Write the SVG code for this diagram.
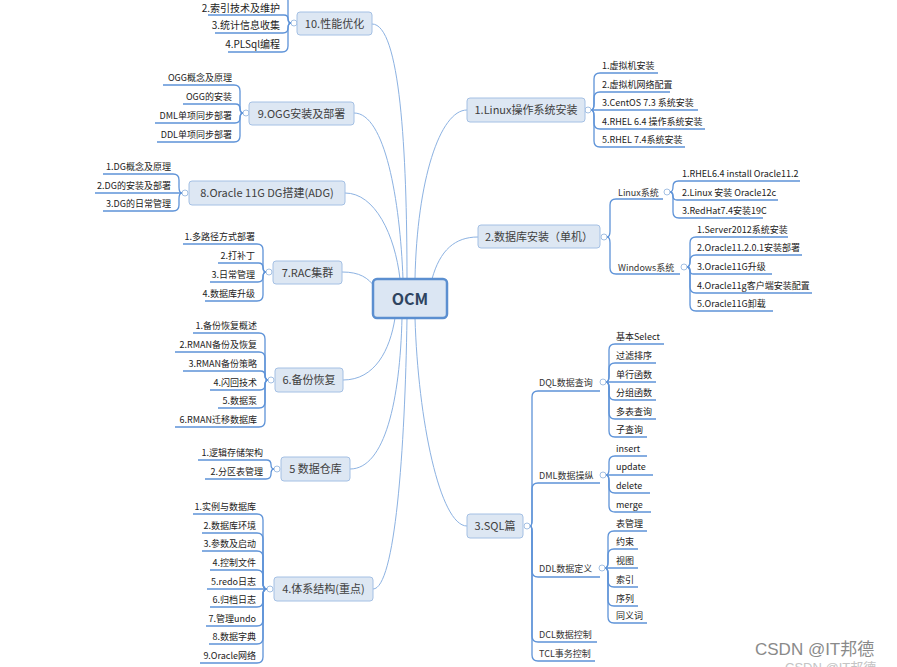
<svg xmlns="http://www.w3.org/2000/svg" width="897" height="667" viewBox="0 0 897 667">
<style>
text{font-family:"Noto Sans CJK SC","Noto Sans",sans-serif}
.box{fill:#dde7f3;stroke:#a4c0e4;stroke-width:1}
.mt{font-size:11px;fill:#404040;text-anchor:middle}
.ct{font-size:9px;fill:#222}
.ct2{font-size:10px;fill:#222}
.st{font-size:9px;fill:#333}
.e{text-anchor:end}
.ul{fill:none;stroke:#5e93d8;stroke-width:1.3}
.cn{fill:none;stroke:#8cb2e2;stroke-width:1}
.dot{fill:#fff;stroke:#8db0dc;stroke-width:0.8}
</style>
<rect width="897" height="667" fill="#fff"/>
<g id="connectors">
<path class="cn" d="M372 24 C400 24 407 150 407 279"/>
<path class="cn" d="M354 113 C385 113 400 200 403 279"/>
<path class="cn" d="M345 193 C375 193 395 235 400 279"/>
<path class="cn" d="M342 272 C360 272 368 278 375 287"/>
<path class="cn" d="M343 380 C375 380 390 350 395 318"/>
<path class="cn" d="M350 469 C385 469 400 400 402 318"/>
<path class="cn" d="M373 589 C395 589 405 450 407 318"/>
<path class="cn" d="M467 110 C440 110 417 180 415 279"/>
<path class="cn" d="M478 237 C455 237 440 250 432 279"/>
<path class="cn" d="M467 526 C440 526 418 420 415 318"/>
<path class="ul" d="M291 23 Q288 23 288 17 V1 Q288 -5 282 -5 H200"/>
<path class="ul" d="M291 23 Q288 23 288 19 Q288 15 284 15 H208"/>
<path class="ul" d="M291 23 Q288 23 288 28 Q288 33 283 33 H215"/>
<path class="ul" d="M291 23 Q288 23 288 29 V46 Q288 52 282 52 H228"/>
<path class="ul" d="M243 113 Q240 113 240 107 V91 Q240 85 234 85 H163"/>
<path class="ul" d="M243 113 Q240 113 240 108.5 Q240 104 235.5 104 H183"/>
<path class="ul" d="M243 113 Q240 113 240 118 Q240 123 235 123 H155"/>
<path class="ul" d="M243 113 Q240 113 240 119 V136 Q240 142 234 142 H157"/>
<path class="ul" d="M182 193 Q179 193 179 187 V180 Q179 174 173 174 H103"/>
<path class="ul" d="M182 193 H95"/>
<path class="ul" d="M182 193 Q179 193 179 199 V205 Q179 211 173 211 H103"/>
<path class="ul" d="M266 272 Q263 272 263 266 V250 Q263 244 257 244 H183"/>
<path class="ul" d="M266 272 Q263 272 263 267.5 Q263 263 258.5 263 H218"/>
<path class="ul" d="M266 272 Q263 272 263 277 Q263 282 258 282 H210"/>
<path class="ul" d="M266 272 Q263 272 263 278 V295 Q263 301 257 301 H205"/>
<path class="ul" d="M268 380 Q265 380 265 374 V339 Q265 333 259 333 H193"/>
<path class="ul" d="M268 380 Q265 380 265 374 V358 Q265 352 259 352 H175"/>
<path class="ul" d="M268 380 Q265 380 265 375.5 Q265 371 260.5 371 H183"/>
<path class="ul" d="M268 380 Q265 380 265 385 Q265 390 260 390 H210"/>
<path class="ul" d="M268 380 Q265 380 265 386 V402 Q265 408 259 408 H218"/>
<path class="ul" d="M268 380 Q265 380 265 386 V421 Q265 427 259 427 H175"/>
<path class="ul" d="M274 469 Q271 469 271 464.5 Q271 460 266.5 460 H198"/>
<path class="ul" d="M274 469 Q271 469 271 474 Q271 479 266 479 H205"/>
<path class="ul" d="M267 589 Q263 589 263 583 V520 Q263 514 257 514 H193"/>
<path class="ul" d="M267 589 Q263 589 263 583 V539 Q263 533 257 533 H202"/>
<path class="ul" d="M267 589 Q263 589 263 583 V557 Q263 551 257 551 H202"/>
<path class="ul" d="M267 589 Q263 589 263 583 V576 Q263 570 257 570 H210"/>
<path class="ul" d="M267 589 H207"/>
<path class="ul" d="M267 589 Q263 589 263 595 V601 Q263 607 257 607 H210"/>
<path class="ul" d="M267 589 Q263 589 263 595 V620 Q263 626 257 626 H206"/>
<path class="ul" d="M267 589 Q263 589 263 595 V638 Q263 644 257 644 H209"/>
<path class="ul" d="M267 589 Q263 589 263 595 V657 Q263 663 257 663 H200"/>
<path class="ul" d="M591 110 Q594 110 594 104 V79 Q594 73 600 73 H658"/>
<path class="ul" d="M591 110 Q594 110 594 104 V98 Q594 92 600 92 H670"/>
<path class="ul" d="M591 110 H698"/>
<path class="ul" d="M591 110 Q594 110 594 116 V123 Q594 129 600 129 H705"/>
<path class="ul" d="M591 110 Q594 110 594 116 V141 Q594 147 600 147 H685"/>
<path class="ul" d="M607 237 Q610 237 610 231 V205 Q610 199 616 199 H663"/>
<path class="ul" d="M607 237 Q610 237 610 243 V268 Q610 274 616 274 H680"/>
<path class="ul" d="M670 192 Q673 192 673 186.5 Q673 181 678.5 181 H800"/>
<path class="ul" d="M670 192 Q673 192 673 196 Q673 200 677 200 H778"/>
<path class="ul" d="M670 192 Q673 192 673 198 V212 Q673 218 679 218 H763"/>
<path class="ul" d="M687 267 Q690 267 690 261 V243 Q690 237 696 237 H788"/>
<path class="ul" d="M687 267 Q690 267 690 261 Q690 255 696 255 H802"/>
<path class="ul" d="M687 267 Q690 267 690 270.5 Q690 274 693.5 274 H772"/>
<path class="ul" d="M687 267 Q690 267 690 273 V287 Q690 293 696 293 H812"/>
<path class="ul" d="M687 267 Q690 267 690 273 V305 Q690 311 696 311 H773"/>
<path class="ul" d="M530 526 Q532 526 532 520 V397 Q532 391 538 391 H600"/>
<path class="ul" d="M530 526 Q532 526 532 520 V489 Q532 483 538 483 H600"/>
<path class="ul" d="M530 526 Q532 526 532 532 V571 Q532 577 538 577 H600"/>
<path class="ul" d="M530 526 Q532 526 532 532 V636 Q532 642 538 642 H597"/>
<path class="ul" d="M530 526 Q532 526 532 532 V655 Q532 661 538 661 H595"/>
<path class="ul" d="M606 382 Q609 382 609 376 V350 Q609 344 615 344 H664"/>
<path class="ul" d="M606 382 Q609 382 609 376 V369 Q609 363 615 363 H656"/>
<path class="ul" d="M606 382 H656"/>
<path class="ul" d="M606 382 Q609 382 609 388 V394 Q609 400 615 400 H656"/>
<path class="ul" d="M606 382 Q609 382 609 388 V413 Q609 419 615 419 H656"/>
<path class="ul" d="M606 382 Q609 382 609 388 V431 Q609 437 615 437 H647"/>
<path class="ul" d="M606 475 Q609 475 609 469 V462 Q609 456 615 456 H647"/>
<path class="ul" d="M606 475 H653"/>
<path class="ul" d="M606 475 Q609 475 609 481 V487 Q609 493 615 493 H650"/>
<path class="ul" d="M606 475 Q609 475 609 481 V506 Q609 512 615 512 H651"/>
<path class="ul" d="M605 568 Q608 568 608 562 V537 Q608 531 614 531 H647"/>
<path class="ul" d="M605 568 Q608 568 608 562 V555 Q608 549 614 549 H638"/>
<path class="ul" d="M605 568 H638"/>
<path class="ul" d="M605 568 Q608 568 608 574 V581 Q608 587 614 587 H638"/>
<path class="ul" d="M605 568 Q608 568 608 574 V600 Q608 606 614 606 H638"/>
<path class="ul" d="M605 568 Q608 568 608 574 V617 Q608 623 614 623 H647"/>
<circle class="dot" cx="294" cy="23" r="3"/>
<circle class="dot" cx="246" cy="113" r="3"/>
<circle class="dot" cx="185" cy="193" r="3"/>
<circle class="dot" cx="269" cy="272" r="3"/>
<circle class="dot" cx="271" cy="380" r="3"/>
<circle class="dot" cx="277" cy="469" r="3"/>
<circle class="dot" cx="270" cy="589" r="3"/>
<circle class="dot" cx="588" cy="110" r="3"/>
<circle class="dot" cx="604" cy="237" r="3"/>
<circle class="dot" cx="667" cy="192" r="3"/>
<circle class="dot" cx="684" cy="267" r="3"/>
<circle class="dot" cx="527" cy="526" r="3"/>
<circle class="dot" cx="603" cy="382" r="3"/>
<circle class="dot" cx="603" cy="475" r="3"/>
<circle class="dot" cx="602" cy="568" r="3"/>
</g>
<g id="ocm">
<rect x="373" y="279" width="74" height="39" rx="4" fill="#dbe6f3" stroke="#5b8fd0" stroke-width="2.5"/>
<text x="410" y="304.5" text-anchor="middle" font-size="16" font-weight="bold" fill="#2e4460">OCM</text>
</g>
<g id="n10"><rect class="box" x="297" y="12" width="75" height="23" rx="3"/><text class="mt" x="334.5" y="27.5">10.性能优化</text></g>
<g id="n10-2"><text class="ct2 e" x="280" y="11.5">2.索引技术及维护</text></g>
<g id="n10-3"><text class="ct2 e" x="280" y="29">3.统计信息收集</text></g>
<g id="n10-4"><text class="ct2 e" x="280" y="48">4.PLSql编程</text></g>
<g id="n9"><rect class="box" x="249" y="102" width="105" height="23" rx="3"/><text class="mt" x="301.5" y="117.5">9.OGG安装及部署</text></g>
<g id="n9-1"><text class="ct e" x="232" y="81">OGG概念及原理</text></g>
<g id="n9-2"><text class="ct e" x="232" y="100">OGG的安装</text></g>
<g id="n9-3"><text class="ct e" x="232" y="119">DML单项同步部署</text></g>
<g id="n9-4"><text class="ct e" x="232" y="138">DDL单项同步部署</text></g>
<g id="n8"><rect class="box" x="189" y="181" width="156" height="24" rx="3"/><text class="mt" x="267" y="197">8.Oracle 11G DG搭建(ADG)</text></g>
<g id="n8-1"><text class="ct e" x="171" y="170">1.DG概念及原理</text></g>
<g id="n8-2"><text class="ct e" x="171" y="189">2.DG的安装及部署</text></g>
<g id="n8-3"><text class="ct e" x="171" y="207">3.DG的日常管理</text></g>
<g id="n7"><rect class="box" x="273" y="261" width="69" height="23" rx="3"/><text class="mt" x="307.5" y="276.5">7.RAC集群</text></g>
<g id="n7-1"><text class="ct e" x="255" y="240">1.多路径方式部署</text></g>
<g id="n7-2"><text class="ct e" x="255" y="259">2.打补丁</text></g>
<g id="n7-3"><text class="ct e" x="255" y="278">3.日常管理</text></g>
<g id="n7-4"><text class="ct e" x="255" y="297">4.数据库升级</text></g>
<g id="n6"><rect class="box" x="275" y="368" width="68" height="24" rx="3"/><text class="mt" x="309" y="384">6.备份恢复</text></g>
<g id="n6-1"><text class="ct e" x="257" y="329">1.备份恢复概述</text></g>
<g id="n6-2"><text class="ct e" x="257" y="348">2.RMAN备份及恢复</text></g>
<g id="n6-3"><text class="ct e" x="257" y="367">3.RMAN备份策略</text></g>
<g id="n6-4"><text class="ct e" x="257" y="386">4.闪回技术</text></g>
<g id="n6-5"><text class="ct e" x="257" y="404">5.数据泵</text></g>
<g id="n6-6"><text class="ct e" x="257" y="423">6.RMAN迁移数据库</text></g>
<g id="n5"><rect class="box" x="281" y="457" width="69" height="24" rx="3"/><text class="mt" x="315.5" y="473">5 数据仓库</text></g>
<g id="n5-1"><text class="ct e" x="263" y="456">1.逻辑存储架构</text></g>
<g id="n5-2"><text class="ct e" x="263" y="475">2.分区表管理</text></g>
<g id="n4"><rect class="box" x="274" y="577" width="99" height="24" rx="3"/><text class="mt" x="323.5" y="593">4.体系结构(重点)</text></g>
<g id="n4-1"><text class="ct e" x="256" y="510">1.实例与数据库</text></g>
<g id="n4-2"><text class="ct e" x="256" y="529">2.数据库环境</text></g>
<g id="n4-3"><text class="ct e" x="256" y="547">3.参数及启动</text></g>
<g id="n4-4"><text class="ct e" x="256" y="566">4.控制文件</text></g>
<g id="n4-5"><text class="ct e" x="256" y="585">5.redo日志</text></g>
<g id="n4-6"><text class="ct e" x="256" y="603">6.归档日志</text></g>
<g id="n4-7"><text class="ct e" x="256" y="622">7.管理undo</text></g>
<g id="n4-8"><text class="ct e" x="256" y="640">8.数据字典</text></g>
<g id="n4-9"><text class="ct e" x="256" y="659">9.Oracle网络</text></g>
<g id="n1"><rect class="box" x="467" y="98" width="118" height="24" rx="3"/><text class="mt" x="526" y="114">1.Linux操作系统安装</text></g>
<g id="n1-1"><text class="ct" x="602" y="69">1.虚拟机安装</text></g>
<g id="n1-2"><text class="ct" x="602" y="88">2.虚拟机网络配置</text></g>
<g id="n1-3"><text class="ct" x="602" y="106">3.CentOS 7.3 系统安装</text></g>
<g id="n1-4"><text class="ct" x="602" y="125">4.RHEL 6.4 操作系统安装</text></g>
<g id="n1-5"><text class="ct" x="602" y="143">5.RHEL 7.4系统安装</text></g>
<g id="n2"><rect class="box" x="478" y="225" width="122" height="23" rx="3"/><text class="mt" x="539" y="240.5">2.数据库安装（单机）</text></g>
<g id="n2-linux"><text class="st" x="618" y="195.5">Linux系统</text></g>
<g id="n2-linux-1"><text class="ct" x="682" y="177">1.RHEL6.4 install Oracle11.2</text></g>
<g id="n2-linux-2"><text class="ct" x="682" y="196">2.Linux 安装 Oracle12c</text></g>
<g id="n2-linux-3"><text class="ct" x="682" y="214">3.RedHat7.4安装19C</text></g>
<g id="n2-win"><text class="st" x="618" y="270.5">Windows系统</text></g>
<g id="n2-win-1"><text class="ct" x="697" y="233">1.Server2012系统安装</text></g>
<g id="n2-win-2"><text class="ct" x="697" y="251">2.Oracle11.2.0.1安装部署</text></g>
<g id="n2-win-3"><text class="ct" x="697" y="270">3.Oracle11G升级</text></g>
<g id="n2-win-4"><text class="ct" x="697" y="289">4.Oracle11g客户端安装配置</text></g>
<g id="n2-win-5"><text class="ct" x="697" y="307">5.Oracle11G卸载</text></g>
<g id="n3"><rect class="box" x="467" y="514" width="56" height="24" rx="3"/><text class="mt" x="495" y="530">3.SQL篇</text></g>
<g id="n3-dql"><text class="st" x="539" y="386">DQL数据查询</text></g>
<g id="n3-dql-1"><text class="ct" x="616" y="340">基本Select</text></g>
<g id="n3-dql-2"><text class="ct" x="616" y="359">过滤排序</text></g>
<g id="n3-dql-3"><text class="ct" x="616" y="378">单行函数</text></g>
<g id="n3-dql-4"><text class="ct" x="616" y="396">分组函数</text></g>
<g id="n3-dql-5"><text class="ct" x="616" y="415">多表查询</text></g>
<g id="n3-dql-6"><text class="ct" x="616" y="433">子查询</text></g>
<g id="n3-dml"><text class="st" x="539" y="479">DML数据操纵</text></g>
<g id="n3-dml-1"><text class="ct" x="616" y="452">insert</text></g>
<g id="n3-dml-2"><text class="ct" x="616" y="470">update</text></g>
<g id="n3-dml-3"><text class="ct" x="616" y="489">delete</text></g>
<g id="n3-dml-4"><text class="ct" x="616" y="508">merge</text></g>
<g id="n3-ddl"><text class="st" x="539" y="572">DDL数据定义</text></g>
<g id="n3-ddl-1"><text class="ct" x="616" y="527">表管理</text></g>
<g id="n3-ddl-2"><text class="ct" x="616" y="545">约束</text></g>
<g id="n3-ddl-3"><text class="ct" x="616" y="564">视图</text></g>
<g id="n3-ddl-4"><text class="ct" x="616" y="583">索引</text></g>
<g id="n3-ddl-5"><text class="ct" x="616" y="602">序列</text></g>
<g id="n3-ddl-6"><text class="ct" x="616" y="619">同义词</text></g>
<g id="n3-dcl"><text class="st" x="539" y="638">DCL数据控制</text></g>
<g id="n3-tcl"><text class="st" x="539" y="657">TCL事务控制</text></g>
<g id="watermark">
<text x="755" y="655" font-size="17" fill="#8a8a8a" style="font-family:'Liberation Sans','Noto Sans CJK SC',sans-serif">CSDN @IT邦德</text>
<text x="785" y="672" font-size="13" fill="#c4c4c4" style="font-family:'Liberation Sans','Noto Sans CJK SC',sans-serif">CSDN @IT邦德</text>
</g>
</svg>
